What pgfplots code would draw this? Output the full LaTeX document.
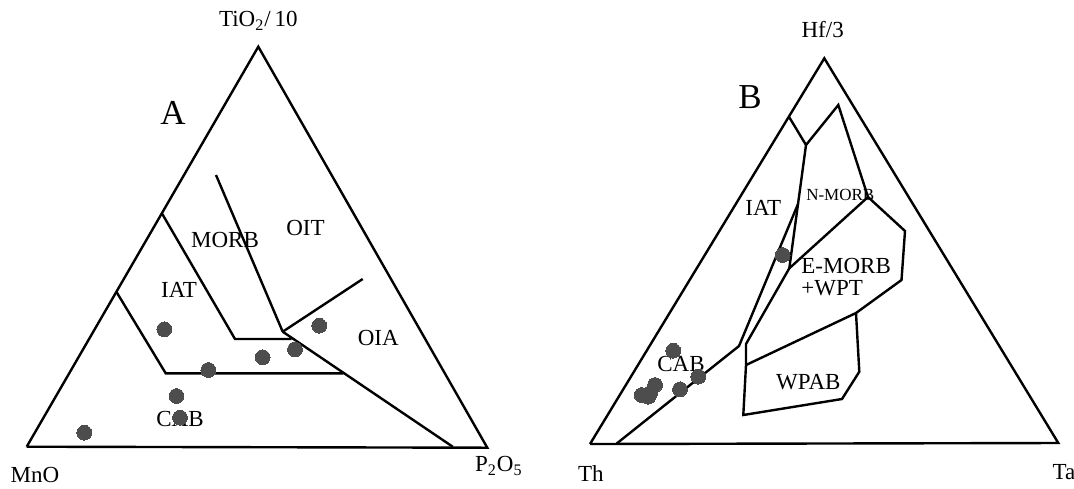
\documentclass[border=0pt]{standalone}
\usepackage{fontspec}
\setmainfont{Liberation Serif}
\usepackage{pgfplots}
\pgfplotsset{compat=1.18}
\definecolor{dot}{HTML}{4D4D4D}
\tikzset{
  lab/.style={font=\fontsize{11.5}{13}\selectfont, inner sep=0pt},
  big/.style={font=\fontsize{17.5}{20}\selectfont, inner sep=0pt}}
\pgfplotsset{
  ln/.style={black, solid, line width=1.2pt, line join=miter, mark=none},
  pts/.style={only marks, mark=*, mark size=3.7pt, draw=dot, fill=dot, line width=0pt}}
\begin{document}
\begin{tikzpicture}
\begin{axis}[name=ax, width=537pt, height=244pt, scale only axis,
  xmin=0, xmax=1074, ymin=0, ymax=488, y dir=reverse,
  hide axis, clip=false]
% ---------- Panel A ----------
\addplot[ln] coordinates {(26.7,446.7) (258.3,46.7) (487.3,447.7) (26.7,446.7)};
\addplot[ln] coordinates {(162.3,214) (235,339) (291.7,339)};
\addplot[ln] coordinates {(216,175) (282.7,331.7)};
\addplot[ln] coordinates {(282.7,331.7) (362.7,279)};
\addplot[ln] coordinates {(282.7,331.7) (452.7,446.7)};
\addplot[ln] coordinates {(116.7,292.3) (165.7,373.3) (343.3,373.3)};
\addplot[pts] coordinates {(164.3,329.3) (208.3,370) (262.7,357.3) (295,349.3) (319.3,325.7) (176.5,396) (180,417.7) (84.3,432.7)};
\node[lab] at (axis cs:258.3,20.7) {TiO\textsubscript{2}/\,10};
\node[big] at (axis cs:173,113) {A};
\node[lab] at (axis cs:225,240) {MORB};
\node[lab] at (axis cs:305.5,228.3) {OIT};
\node[lab] at (axis cs:179,290) {IAT};
\node[lab] at (axis cs:378.3,337.5) {OIA};
\node[lab] at (axis cs:180,419.3) {CAB};
\node[lab] at (axis cs:35,475) {MnO};
\node[lab] at (axis cs:498.8,466) {P\textsubscript{2}O\textsubscript{5}};
% ---------- Panel B ----------
\addplot[ln] coordinates {(590,444) (824.3,58.3) (1058.3,443) (590,444)};
\addplot[ln] coordinates {(789.3,117.3) (806,145)};
\addplot[ln] coordinates {(806,145) (838.3,105) (868,197) (905,231) (901.5,280) (856,313) (859.3,371.7) (842,399) (743.3,415) (746,365) (746,344) (789.3,268.3) (806,145)};
\addplot[ln] coordinates {(789.3,268.3) (868,197)};
\addplot[ln] coordinates {(746,365) (856,313)};
\addplot[ln] coordinates {(616.7,443.5) (739,346) (798,204)};
\addplot[pts] coordinates {(673.3,350.7) (698.3,376.7) (680,389.3) (655,385) (650,393.3) (641.7,395) (648.3,396.7) (782.7,255)};
\node[lab] at (axis cs:822.7,29.3) {Hf/3};
\node[big] at (axis cs:750,97.3) {B};
\node[lab] at (axis cs:763.3,208.3) {IAT};
\node[font=\fontsize{8.5}{10}\selectfont, inner sep=0pt] at (axis cs:840.3,195) {N-MORB};
\node[lab, anchor=west] at (axis cs:801,266) {E-MORB};
\node[lab, anchor=west] at (axis cs:801,288.3) {+WPT};
\node[lab] at (axis cs:808.3,381.7) {WPAB};
\node[lab] at (axis cs:681,364) {CAB};
\node[lab] at (axis cs:590.8,474) {Th};
\node[lab] at (axis cs:1064,471.7) {Ta};
\end{axis}
\pgfresetboundingbox
\useasboundingbox (ax.south west) rectangle (ax.north east);
\end{tikzpicture}
\end{document}
